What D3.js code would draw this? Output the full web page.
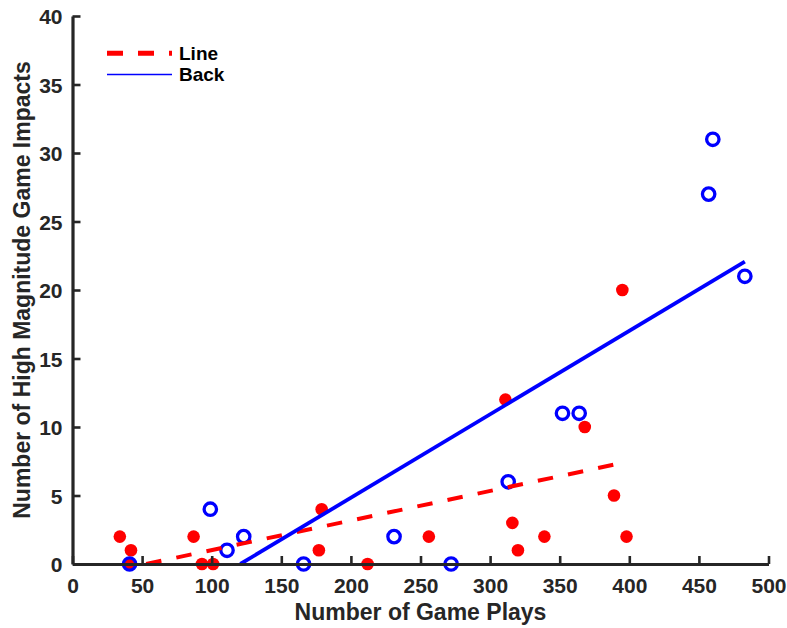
<!DOCTYPE html>
<html>
<head>
<meta charset="utf-8">
<script src="https://cdn.jsdelivr.net/npm/d3@7"></script>
<style>
  html, body { margin: 0; padding: 0; background: #fff; }
  svg { display: block; font-family: "Liberation Sans", Arial, Helvetica, sans-serif; font-weight: bold; }
</style>
</head>
<body>
<svg id="chart" width="787" height="628"></svg>
<script>
// Game plays vs. high magnitude impacts, by player position
const linePlays   = [34, 42, 41, 87, 93, 101, 179, 177, 212, 256, 311, 316, 320, 339, 368, 389, 398, 395];
const lineImpacts = [2, 1, 0, 2, 0, 0, 4, 1, 0, 2, 12, 3, 1, 2, 10, 5, 2, 20];
const backPlays   = [41, 99, 111, 123, 166, 231, 272, 313, 352, 364, 457, 460, 483];
const backImpacts = [0, 4, 1, 2, 0, 2, 0, 6, 11, 11, 27, 31, 21];

// x-extent over which each fitted trend line is drawn
const lineFitRange = [34, 389];
const backFitRange = [41, 483];

const xTicks = [0, 50, 100, 150, 200, 250, 300, 350, 400, 450, 500];
const yTicks = [0, 5, 10, 15, 20, 25, 30, 35, 40];
const seriesNames = ["Line", "Back"];

const ink = "#262626";
const svg = d3.select("#chart");

const x = d3.scaleLinear().domain([0, 500]).range([72.5, 768.5]);
const y = d3.scaleLinear().domain([0, 40]).range([564, 16]);

// least-squares fit
function fit(xs, ys) {
  const mx = d3.mean(xs), my = d3.mean(ys);
  let sxy = 0, sxx = 0;
  xs.forEach((v, i) => { sxy += (v - mx) * (ys[i] - my); sxx += (v - mx) ** 2; });
  const m = sxy / sxx;
  return { m, b: my - m * mx };
}
function fitSegment(xs, ys, range) {
  const f = fit(xs, ys);
  // keep the segment inside the visible y >= 0 region
  const x0 = Math.max(range[0], -f.b / f.m);
  const x1 = range[1];
  return [[x0, f.m * x0 + f.b], [x1, f.m * x1 + f.b]];
}

svg.append("clipPath").attr("id", "plotClip")
  .append("rect")
  .attr("x", x(0)).attr("y", y(40))
  .attr("width", x(500) - x(0)).attr("height", y(0) - y(40));

const plot = svg.append("g");

// Line: filled red dots
plot.append("g").selectAll("circle")
  .data(linePlays.map((v, i) => [v, lineImpacts[i]]))
  .join("circle")
  .attr("cx", d => x(d[0])).attr("cy", d => y(d[1]))
  .attr("r", 6.3).attr("fill", "#ff0000");

// Back: open blue circles
plot.append("g").selectAll("circle")
  .data(backPlays.map((v, i) => [v, backImpacts[i]]))
  .join("circle")
  .attr("cx", d => x(d[0])).attr("cy", d => y(d[1]))
  .attr("r", 6.2).attr("fill", "none")
  .attr("stroke", "#0000ff").attr("stroke-width", 3.3);

const lineGen = d3.line().x(d => x(d[0])).y(d => y(d[1]));

plot.append("path")
  .attr("clip-path", "url(#plotClip)")
  .attr("d", lineGen(fitSegment(linePlays, lineImpacts, lineFitRange)))
  .attr("fill", "none").attr("stroke", "#ff0000")
  .attr("stroke-width", 4).attr("stroke-dasharray", "15.5,15.3");

plot.append("path")
  .attr("clip-path", "url(#plotClip)")
  .attr("d", lineGen(fitSegment(backPlays, backImpacts, backFitRange)))
  .attr("fill", "none").attr("stroke", "#0000ff")
  .attr("stroke-width", 3.8);

// Axes (left and bottom only, ticks pointing inward)
const xAxis = svg.append("g")
  .attr("transform", `translate(0,${y(0)})`)
  .call(d3.axisBottom(x).tickValues(xTicks).tickSizeInner(-8).tickSizeOuter(0).tickPadding(16));
const yAxis = svg.append("g")
  .attr("transform", `translate(${x(0)},0)`)
  .call(d3.axisLeft(y).tickValues(yTicks).tickSizeInner(-8).tickSizeOuter(0).tickPadding(10));

[xAxis, yAxis].forEach(a => {
  a.select(".domain").attr("stroke", ink).attr("stroke-width", 3.2);
  a.selectAll(".tick line").attr("stroke", ink).attr("stroke-width", 2.6);
  a.selectAll(".tick text").attr("fill", ink)
    .style("font-size", "21px").style("font-weight", "bold")
    .style("font-family", "'Liberation Sans', Arial, sans-serif");
});
xAxis.selectAll(".tick text").attr("dy", "0.62em");
yAxis.selectAll(".tick text").attr("dy", "0.36em");

// Axis titles
svg.append("text")
  .attr("x", (x(0) + x(500)) / 2).attr("y", 620)
  .attr("text-anchor", "middle").attr("fill", ink)
  .style("font-size", "23px")
  .text("Number of Game Plays");

svg.append("text")
  .attr("transform", `translate(30,${(y(0) + y(40)) / 2}) rotate(-90)`)
  .attr("text-anchor", "middle").attr("fill", ink)
  .style("font-size", "23px")
  .text("Number of High Magnitude Game Impacts");

// Legend
const legend = svg.append("g");
const legendRows = [
  { name: seriesNames[0], color: "#ff0000", width: 5, dash: "16,15", y: 53.3 },
  { name: seriesNames[1], color: "#0000ff", width: 1.5, dash: null, y: 74.5 }
];
legendRows.forEach(r => {
  legend.append("line")
    .attr("x1", 107).attr("x2", 172).attr("y1", r.y).attr("y2", r.y)
    .attr("stroke", r.color).attr("stroke-width", r.width)
    .attr("stroke-dasharray", r.dash);
  legend.append("text")
    .attr("x", 179).attr("y", r.y + 6.8)
    .attr("fill", "#000")
    .style("font-size", "19px")
    .text(r.name);
});
</script>
</body>
</html>
